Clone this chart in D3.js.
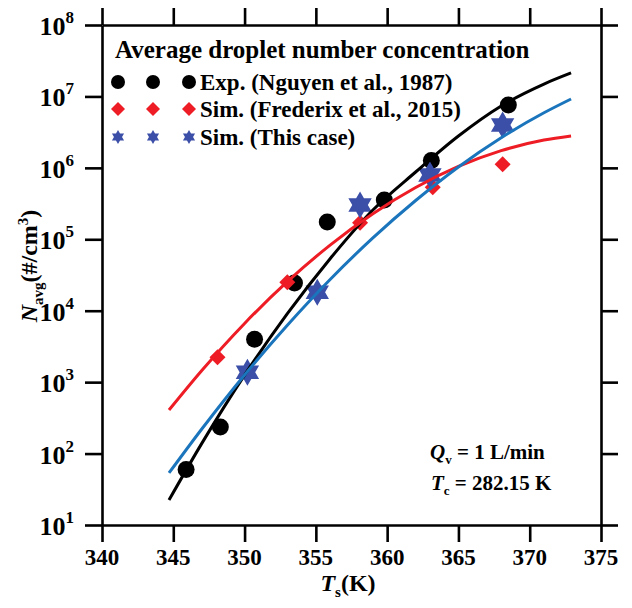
<!DOCTYPE html>
<html>
<head>
<meta charset="utf-8">
<script src="https://cdn.jsdelivr.net/npm/d3@7"></script>
<style>
  body { margin: 0; background: #fff; }
  svg { font-family: "Liberation Serif", "Times New Roman", serif; font-weight: bold; }
</style>
</head>
<body>
<script>
// Average droplet number concentration vs surface temperature (log y axis)
const width = 632, height = 608;
const margin = { top: 25, right: 31, bottom: 83, left: 102 };

// measured points
const expT = [345.9, 348.3, 350.7, 353.5, 355.8, 359.8, 363.1, 368.5];
const expN = [60, 236, 4000, 24500, 174000, 355000, 1.27e6, 7.6e6];
const fredT = [348.1, 353.0, 358.1, 363.2, 368.1];
const fredN = [2240, 25000, 170000, 537000, 1.12e6];
const caseT = [350.2, 355.1, 358.1, 363.0, 368.1];
const caseN = [1380, 18200, 302000, 795000, 3.98e6];

// fitted curves
const fitT = [344.7, 347, 350, 353, 356, 359, 362, 365, 368, 371, 372.9];
const expFitN = [22.4, 139, 1256, 9080, 53500, 257000, 875000, 2.79e6, 7.35e6, 1.49e7, 2.13e7];
const fredFitN = [407, 1455, 6640, 25500, 83000, 228000, 531000, 1.045e6, 1.74e6, 2.45e6, 2.79e6];
const caseFitN = [53.5, 221, 1262, 6270, 27400, 104500, 349000, 1.03e6, 2.64e6, 5.9e6, 9.2e6];

// axes
const xTicks = [340, 345, 350, 355, 360, 365, 370, 375];
const xMinor = [342.5, 347.5, 352.5, 357.5, 362.5, 367.5, 372.5];
const yTicks = [1e1, 1e2, 1e3, 1e4, 1e5, 1e6, 1e7, 1e8];
const legendNames = ["Exp. (Nguyen et al., 1987)", "Sim. (Frederix et al., 2015)", "Sim. (This case)"];

const black = "#000", red = "#ee1c25", starBlue = "#3c4fa8", lineBlue = "#1b75bc";

const svg = d3.select("body")
    .append("svg")
    .attr("width", width)
    .attr("height", height);

const x = d3.scaleLinear().domain([340, 375]).range([margin.left, width - margin.right]);
const y = d3.scaleLog().domain([1e1, 1e8]).range([height - margin.bottom, margin.top]);

// minor ticks 2..9 inside each decade
const yMinor = [];
yTicks.slice(0, -1).forEach(d => { for (let k = 2; k <= 9; k++) yMinor.push(d * k); });

function drawAxis(axisFn, pos, transform) {
    const g = svg.append("g").attr("transform", transform);
    g.call(axisFn(pos === "x" ? x : y)
        .tickValues(pos === "x" ? xMinor : yMinor).tickSize(8).tickSizeOuter(0).tickFormat(""));
    g.call(axisFn(pos === "x" ? x : y)
        .tickValues(pos === "x" ? xTicks : yTicks).tickSize(17).tickSizeOuter(0).tickFormat(""));
    g.selectAll("path, line").attr("stroke", "#000").attr("stroke-width", 2.6);
    return g;
}

drawAxis(d3.axisBottom, "x", `translate(0,${height - margin.bottom})`);
drawAxis(d3.axisTop, "x", `translate(0,${margin.top})`);
drawAxis(d3.axisLeft, "y", `translate(${margin.left},0)`);
drawAxis(d3.axisRight, "y", `translate(${width - margin.right},0)`);

// x tick labels
svg.append("g").selectAll("text")
    .data(xTicks)
    .join("text")
    .attr("x", d => x(d))
    .attr("y", height - margin.bottom + 40)
    .attr("text-anchor", "middle")
    .attr("font-size", 23)
    .text(d => d);

// y tick labels as powers of ten
const yLab = svg.append("g").selectAll("text")
    .data(yTicks)
    .join("text")
    .attr("x", margin.left - 28)
    .attr("y", d => y(d) + 10)
    .attr("text-anchor", "end")
    .attr("font-size", 26);
yLab.append("tspan").text("10");
yLab.append("tspan").attr("font-size", 17).attr("dy", -12).text(d => Math.round(Math.log10(d)));

// axis titles
const xt = svg.append("text")
    .attr("x", 348).attr("y", 591)
    .attr("text-anchor", "middle")
    .attr("font-size", 24);
xt.append("tspan").attr("font-style", "italic").text("T");
xt.append("tspan").attr("font-size", 15).attr("dy", 6).text("s");
xt.append("tspan").attr("dy", -6).text("(K)");

const yt = svg.append("text")
    .attr("transform", "translate(37,266) rotate(-90)")
    .attr("text-anchor", "middle")
    .attr("font-size", 24);
yt.append("tspan").attr("font-style", "italic").text("N");
yt.append("tspan").attr("font-size", 15).attr("dy", 6).text("avg");
yt.append("tspan").attr("dy", -6).text("(#/cm");
yt.append("tspan").attr("font-size", 15).attr("dy", -9).text("3");
yt.append("tspan").attr("dy", 9).text(")");

// marker shapes
function hexagram(r) {
    const pts = d3.range(12).map(i => {
        const a = -Math.PI / 2 + i * Math.PI / 6;
        const rr = i % 2 ? r / Math.sqrt(3) : r;
        return [rr * Math.cos(a), rr * Math.sin(a)];
    });
    return "M" + pts.join("L") + "Z";
}
function diamond(r) {
    return `M0,${-r}L${r},0L0,${r}L${-r},0Z`;
}

// markers (drawn under the fitted lines)
svg.append("g").selectAll("circle")
    .data(d3.zip(expT, expN))
    .join("circle")
    .attr("cx", d => x(d[0]))
    .attr("cy", d => y(d[1]))
    .attr("r", 8.5)
    .attr("fill", black);

svg.append("g").selectAll("path")
    .data(d3.zip(fredT, fredN))
    .join("path")
    .attr("d", diamond(8))
    .attr("transform", d => `translate(${x(d[0])},${y(d[1])})`)
    .attr("fill", red);

svg.append("g").selectAll("path")
    .data(d3.zip(caseT, caseN))
    .join("path")
    .attr("d", hexagram(13.5))
    .attr("transform", d => `translate(${x(d[0])},${y(d[1])})`)
    .attr("fill", starBlue);

// fitted curves
const line = d3.line()
    .x(d => x(d[0]))
    .y(d => y(d[1]))
    .curve(d3.curveMonotoneX);

[[expFitN, black], [fredFitN, red], [caseFitN, lineBlue]].forEach(([vals, col]) => {
    svg.append("path")
        .datum(d3.zip(fitT, vals))
        .attr("d", line)
        .attr("fill", "none")
        .attr("stroke", col)
        .attr("stroke-width", 3);
});

// legend
svg.append("text")
    .attr("x", 115).attr("y", 58)
    .attr("font-size", 25)
    .text("Average droplet number concentration");

const legendY = [82, 109, 137];
const legendX = [118, 153, 189];
legendNames.forEach((name, i) => {
    const g = svg.append("g");
    legendX.forEach(lx => {
        if (i === 0) g.append("circle").attr("cx", lx).attr("cy", legendY[i]).attr("r", 7).attr("fill", black);
        if (i === 1) g.append("path").attr("d", diamond(7)).attr("transform", `translate(${lx},${legendY[i]})`).attr("fill", red);
        if (i === 2) g.append("path").attr("d", hexagram(7)).attr("transform", `translate(${lx},${legendY[i]})`).attr("fill", starBlue);
    });
    g.append("text")
        .attr("x", 200).attr("y", legendY[i] + 8)
        .attr("font-size", 23)
        .text(name);
});

// operating conditions
const q = svg.append("text").attr("x", 430).attr("y", 459).attr("font-size", 21);
q.append("tspan").attr("font-style", "italic").text("Q");
q.append("tspan").attr("font-size", 13).attr("dy", 5).text("v");
q.append("tspan").attr("dy", -5).text(" = 1 L/min");

const tc = svg.append("text").attr("x", 431).attr("y", 490).attr("font-size", 21);
tc.append("tspan").attr("font-style", "italic").text("T");
tc.append("tspan").attr("font-size", 13).attr("dy", 5).text("c");
tc.append("tspan").attr("dy", -5).text(" = 282.15 K");
</script>
</body>
</html>
